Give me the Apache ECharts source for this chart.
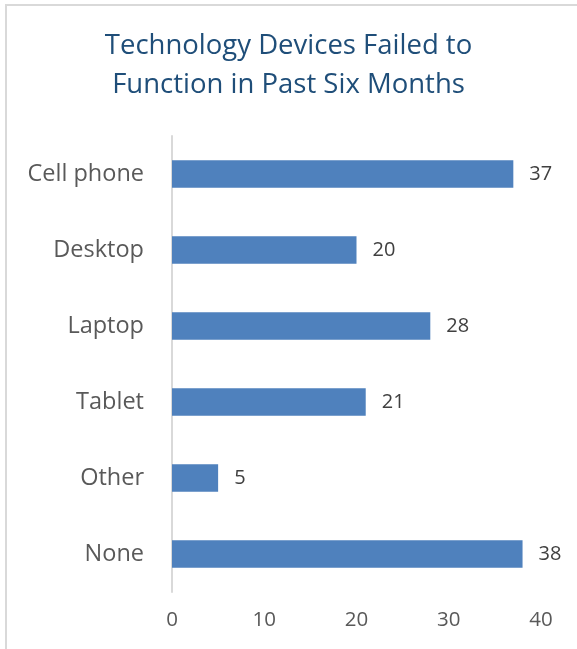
<!DOCTYPE html>
<html><head><meta charset="utf-8">
<script src="https://cdn.jsdelivr.net/npm/echarts@6/dist/echarts.min.js"></script>
<style>html,body{margin:0;padding:0;background:#fff}#c{width:577px;height:649px}</style>
</head><body><div id="c"></div>
<script>
const titleText = 'Technology Devices Failed to\nFunction in Past Six Months';
const categories = ['Cell phone','Desktop','Laptop','Tablet','Other','None'];
const values = [37,20,28,21,5,38];
const xTicks = [0,10,20,30,40];

const chart = echarts.init(document.getElementById('c'));
const font = '"Open Sans", "Noto Sans", sans-serif';
chart.setOption({
  animation:false,
  graphic:[{type:'rect',shape:{x:6,y:5,width:600,height:700},style:{fill:'none',stroke:'#d9d9d9',lineWidth:2},silent:true}],
  title:{text:titleText,left:'center',top:22,textStyle:{color:'#1F4E79',fontFamily:font,fontWeight:'normal',fontSize:27.5,lineHeight:39}},
  grid:{left:172,right:36,top:136,bottom:57},
  xAxis:{type:'value',min:xTicks[0],max:xTicks[xTicks.length-1],interval:10,
    axisLine:{show:false},axisTick:{show:false},splitLine:{show:false},
    axisLabel:{color:'#595959',fontFamily:font,fontSize:20.5,margin:18}},
  yAxis:{type:'category',data:categories,inverse:true,
    axisLine:{show:true,lineStyle:{color:'#d9d9d9',width:2}},axisTick:{show:false},
    axisLabel:{color:'#595959',fontFamily:font,fontSize:23.5,margin:28}},
  series:[{type:'bar',data:values,barWidth:'36%',itemStyle:{color:'#4F81BD'},
    label:{show:true,position:'right',distance:16,color:'#404040',fontFamily:font,fontSize:20}}]
});
</script></body></html>
